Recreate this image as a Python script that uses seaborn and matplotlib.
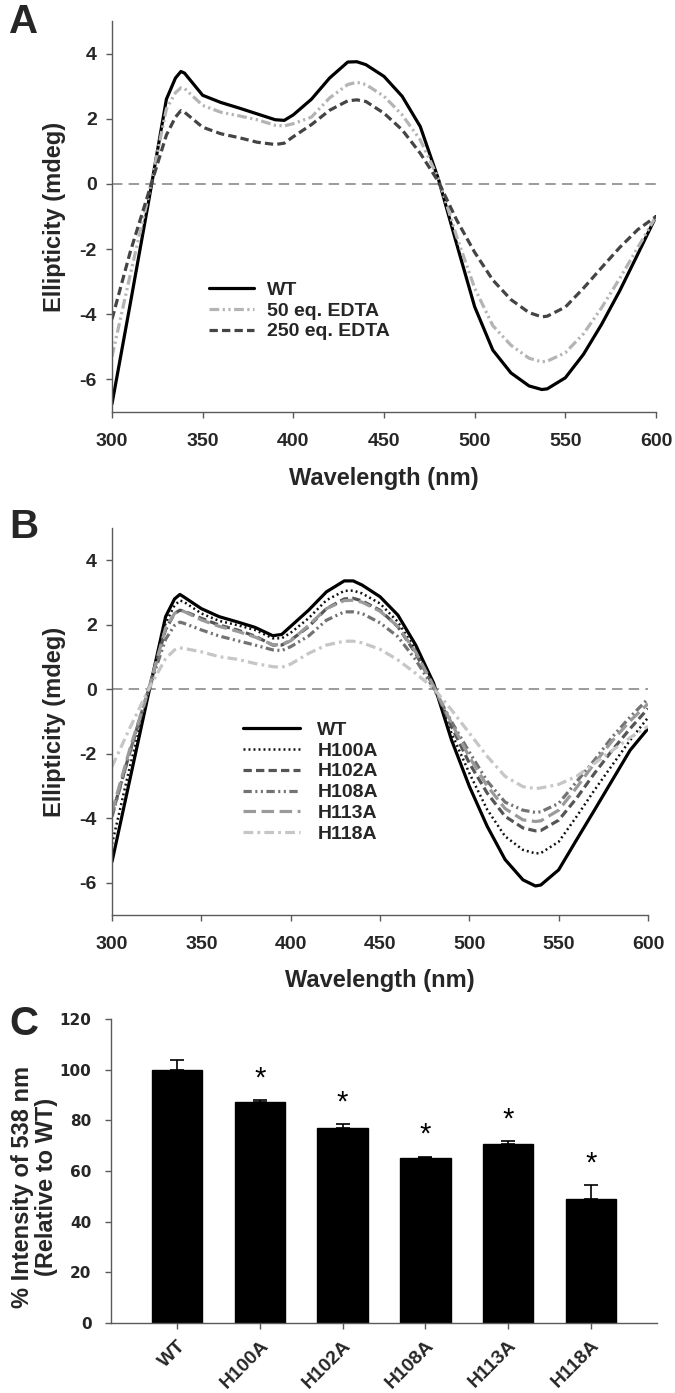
import numpy as np
import pandas as pd
import matplotlib
matplotlib.use("Agg")
import matplotlib.pyplot as plt
import seaborn as sns

# ---------------- data ----------------
wavelength = [300, 310, 320, 330, 335, 338, 340, 350, 360, 370, 380, 390, 395, 400,
              410, 420, 430, 435, 440, 450, 460, 470, 480, 490, 500, 510, 520, 530,
              537, 540, 550, 560, 570, 580, 590, 600]

# Panel A
a_labels = ["WT", "50 eq. EDTA", "250 eq. EDTA"]
a_wt = [-6.75, -3.7, -0.6, 2.6, 3.25, 3.45, 3.4, 2.72, 2.5, 2.33, 2.15, 1.97, 1.95, 2.12,
        2.6, 3.25, 3.74, 3.75, 3.66, 3.30, 2.69, 1.76, 0.15, -1.83, -3.77, -5.1, -5.8, -6.2,
        -6.31, -6.29, -5.95, -5.23, -4.31, -3.28, -2.15, -1.0]
a_edta50 = [-5.3, -2.8, -0.4, 2.3, 2.8, 2.95, 2.93, 2.41, 2.2, 2.09, 1.97, 1.8, 1.78, 1.85,
            2.05, 2.64, 3.05, 3.12, 3.05, 2.69, 2.12, 1.35, 0.17, -1.6, -3.2, -4.35, -4.95, -5.35,
            -5.46, -5.44, -5.18, -4.6, -3.8, -2.9, -1.95, -1.0]
a_edta250 = [-4.15, -2.1, -0.3, 1.5, 2.05, 2.25, 2.2, 1.74, 1.54, 1.42, 1.28, 1.21, 1.25, 1.45,
             1.82, 2.26, 2.55, 2.58, 2.53, 2.17, 1.66, 0.94, 0.07, -1.1, -2.1, -2.95, -3.55, -3.95,
             -4.08, -4.06, -3.78, -3.2, -2.57, -1.95, -1.4, -1.0]

# Panel B
b_labels = ["WT", "H100A", "H102A", "H108A", "H113A", "H118A"]
b_wt = [-5.35, -2.8, -0.25, 2.25, 2.8, 2.94, 2.87, 2.5, 2.25, 2.09, 1.92, 1.66, 1.7, 1.95,
        2.45, 3.02, 3.36, 3.36, 3.23, 2.87, 2.3, 1.37, 0.19, -1.57, -3.01, -4.25, -5.28, -5.91,
        -6.1, -6.07, -5.6, -4.67, -3.75, -2.82, -1.89, -1.22]
b_h100a = [-4.8, -2.4, -0.2, 2.05, 2.6, 2.75, 2.72, 2.35, 2.12, 1.99, 1.84, 1.58, 1.58, 1.75,
           2.2, 2.76, 3.05, 3.06, 2.97, 2.66, 2.09, 1.22, 0.13, -1.36, -2.6, -3.73, -4.56, -4.98,
           -5.09, -5.08, -4.73, -3.95, -3.13, -2.35, -1.58, -0.88]
b_h102a = [-3.9, -1.95, -0.1, 1.85, 2.35, 2.45, 2.43, 2.2, 1.99, 1.84, 1.65, 1.37, 1.37, 1.52,
           1.94, 2.5, 2.8, 2.82, 2.74, 2.45, 1.94, 1.11, 0.08, -1.15, -2.29, -3.22, -3.94, -4.3,
           -4.39, -4.38, -4.06, -3.38, -2.61, -1.89, -1.22, -0.6]
b_h108a = [-3.95, -1.95, -0.1, 1.55, 1.98, 2.08, 2.05, 1.84, 1.65, 1.51, 1.37, 1.22, 1.2, 1.32,
           1.65, 2.14, 2.4, 2.4, 2.35, 2.06, 1.63, 0.91, 0.03, -1.0, -1.95, -2.85, -3.5, -3.75,
           -3.82, -3.8, -3.54, -2.87, -2.2, -1.48, -0.86, -0.3]
b_h113a = [-3.8, -1.85, -0.1, 1.9, 2.35, 2.45, 2.42, 2.15, 1.95, 1.8, 1.62, 1.38, 1.38, 1.5,
           1.98, 2.5, 2.75, 2.76, 2.7, 2.42, 1.95, 1.15, 0.1, -1.05, -2.1, -3.0, -3.7, -4.05,
           -4.1, -4.08, -3.75, -3.05, -2.3, -1.6, -0.98, -0.45]
b_h118a = [-2.4, -1.2, -0.05, 0.95, 1.22, 1.28, 1.27, 1.16, 1.01, 0.93, 0.8, 0.7, 0.68, 0.78,
           1.11, 1.37, 1.49, 1.49, 1.44, 1.24, 0.91, 0.49, 0.03, -0.64, -1.36, -2.08, -2.7, -3.02,
           -3.08, -3.06, -2.95, -2.7, -2.3, -1.9, -1.5, -1.15]

# Panel C
c_variants = ["WT", "H100A", "H102A", "H108A", "H113A", "H118A"]
c_means = [100.0, 87.1, 76.9, 65.0, 70.8, 48.8]
c_errors = [3.7, 0.8, 1.5, 0.6, 0.9, 5.5]
c_significant = [False, True, True, True, True, True]

curve_ticks_x = [300, 350, 400, 450, 500, 550, 600]
curve_ticks_y = [-6, -4, -2, 0, 2, 4]
bar_ticks_y = [0, 20, 40, 60, 80, 100, 120]

# ---------------- style ----------------
sns.set_style("ticks")
plt.rcParams["font.family"] = ["Liberation Sans", "DejaVu Sans"]
plt.rcParams["font.weight"] = "bold"
plt.rcParams["axes.labelweight"] = "bold"
plt.rcParams["lines.scale_dashes"] = False

SPINE = "#5a5a5a"

fig = plt.figure(figsize=(6.75, 13.93), dpi=100)
W, H = 675.0, 1393.0


def px_axes(left, top, right, bottom):
    return fig.add_axes([left / W, 1 - bottom / H, (right - left) / W, (bottom - top) / H])


def style_axes(ax):
    for s in ["top", "right"]:
        ax.spines[s].set_visible(False)
    for s in ["left", "bottom"]:
        ax.spines[s].set_color(SPINE)
        ax.spines[s].set_linewidth(1.0)
    ax.tick_params(direction="out", length=4, width=1.0, color=SPINE)


def curve_panel(ax, series, labels, styles, legend_anchor, handlelength, textpad, width_px):
    for vals, lab, st in zip(series, labels, styles):
        df = pd.DataFrame({"Wavelength": wavelength, "Ellipticity": vals})
        sns.lineplot(data=df, x="Wavelength", y="Ellipticity", ax=ax, color=st["color"],
                     linewidth=st["lw"], label=lab, sort=True)
        line = ax.lines[-1]
        if st["dashes"] is not None:
            line.set_dashes(st["dashes"])
        line.set_solid_capstyle("round")
        line.set_solid_joinstyle("round")
    ax.axhline(0, color="#8a8a8a", lw=1.2, dashes=(7.5, 4.5), zorder=0)
    ax.set_xlim(300, 600)
    ax.set_ylim(-7, 5)
    ax.set_xticks(curve_ticks_x)
    ax.set_yticks(curve_ticks_y)
    ax.set_xticklabels([str(t) for t in curve_ticks_x], fontsize=14, fontweight="bold")
    ax.set_yticklabels([str(t) for t in curve_ticks_y], fontsize=14, fontweight="bold")
    ax.set_xlabel("Wavelength (nm)", fontsize=17, fontweight="bold", labelpad=12)
    ax.set_ylabel("Ellipticity (mdeg)", fontsize=17, fontweight="bold")
    ax.yaxis.set_label_coords((66 - 112) / width_px, 0.5)
    style_axes(ax)
    ax.tick_params(axis="y", pad=7)
    ax.tick_params(axis="x", pad=11)
    leg = ax.legend(loc="upper left", bbox_to_anchor=(legend_anchor[0] / W, 1 - legend_anchor[1] / H),
                    bbox_transform=fig.transFigure, frameon=False, fontsize=14,
                    handlelength=handlelength, handletextpad=textpad, labelspacing=0.17,
                    borderpad=0, borderaxespad=0)
    for t in leg.get_texts():
        t.set_fontweight("bold")


# ---------------- panel A ----------------
axA = px_axes(112, 21, 656, 412)
stylesA = [
    dict(color="black", lw=2.3, dashes=None),
    dict(color="#b4b4b4", lw=2.3, dashes=(7, 2.5, 1.6, 2.5, 1.6, 2.5)),
    dict(color="#444444", lw=2.3, dashes=(6, 3)),
]
curve_panel(axA, [a_wt, a_edta50, a_edta250], a_labels, stylesA, (209, 281), 2.32, 0.67, 544)

# ---------------- panel B ----------------
axB = px_axes(112, 528, 648, 915)
stylesB = [
    dict(color="black", lw=2.3, dashes=None),
    dict(color="#111111", lw=1.8, dashes=(1.4, 2.2)),
    dict(color="#555555", lw=2.3, dashes=(6, 3)),
    dict(color="#737373", lw=2.3, dashes=(6, 2.5, 1.5, 2.5, 1.5, 2.5)),
    dict(color="#9a9a9a", lw=2.3, dashes=(9, 4)),
    dict(color="#c6c6c6", lw=2.3, dashes=(7, 3, 2, 3)),
]
curve_panel(axB, [b_wt, b_h100a, b_h102a, b_h108a, b_h113a, b_h118a], b_labels, stylesB,
            (243, 721), 2.94, 0.88, 536)

# ---------------- panel C ----------------
axC = px_axes(111, 1019, 657, 1323)
dfc = pd.DataFrame({"Variant": c_variants, "Intensity": c_means})
sns.barplot(data=dfc, x="Variant", y="Intensity", ax=axC, color="black", edgecolor="black",
            width=0.61, errorbar=None, saturation=1)
xpos = np.arange(len(c_variants))
axC.errorbar(xpos, c_means, yerr=[np.zeros(len(c_errors)), c_errors], fmt="none",
             ecolor="black", elinewidth=1.2, capsize=4.7, capthick=1.2, zorder=3)
for x, m, e, sig in zip(xpos, c_means, c_errors, c_significant):
    if sig:
        axC.text(x, m + e + 5.5, "*", ha="center", va="baseline", fontsize=21,
                 fontweight="normal", color="black")
axC.set_xlim(-0.8, 5.8)
axC.set_ylim(0, 120)
axC.set_yticks(bar_ticks_y)
axC.set_yticklabels([str(t) for t in bar_ticks_y], fontsize=11, fontweight="bold",
                    family="DejaVu Sans")
axC.set_xticks(xpos)
axC.set_xticklabels(c_variants, fontsize=14, fontweight="bold", rotation=45,
                    ha="right", rotation_mode="anchor")
axC.set_xlabel("")
axC.set_ylabel("% Intensity of 538 nm\n(Relative to WT)", fontsize=17, fontweight="bold",
               linespacing=1.05)
axC.yaxis.set_label_coords((58 - 111) / 546, (1323 - 1187) / 304)
style_axes(axC)
axC.tick_params(axis="y", pad=10)
axC.tick_params(axis="x", pad=6)

# ---------------- panel letters ----------------
for letter, base_y in [("A", 33), ("B", 538), ("C", 1035)]:
    fig.text(9 / W, 1 - base_y / H, letter, fontsize=29, fontweight="bold", va="baseline",
             ha="left")

fig.savefig("out.png", dpi=100)
